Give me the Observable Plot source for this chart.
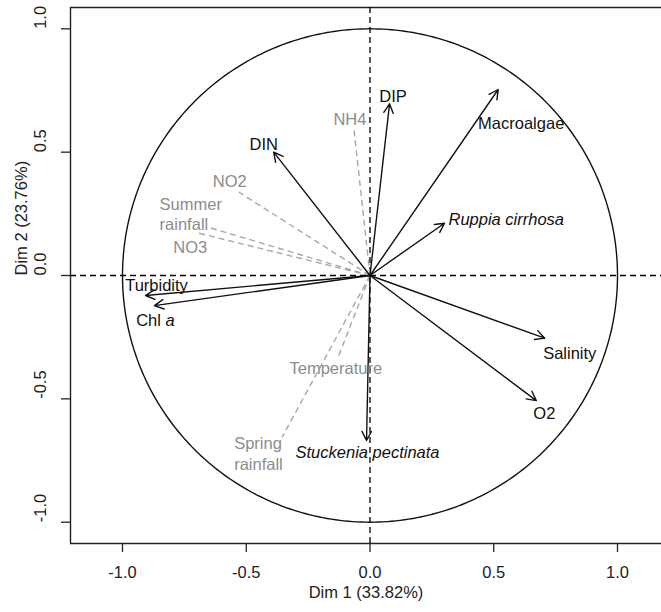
<!DOCTYPE html>
<html><head><meta charset="utf-8">
<script src="https://cdn.jsdelivr.net/npm/d3@7"></script>
<script src="https://cdn.jsdelivr.net/npm/@observablehq/plot@0.6"></script>
<style>html,body{margin:0;padding:0;background:#fff;overflow:hidden}</style>
</head><body><div id="chart"></div>
<script>
// Active variables (black arrows)
const activeNames = ["Macroalgae", "DIP", "Ruppia cirrhosa", "DIN", "Turbidity", "Chl a", "Salinity", "O2", "Stuckenia pectinata"];
const activeDim1 = [0.518, 0.079, 0.301, -0.389, -0.907, -0.871, 0.706, 0.672, -0.014];
const activeDim2 = [0.754, 0.696, 0.212, 0.500, -0.081, -0.122, -0.254, -0.507, -0.669];
const italicNames = ["Ruppia cirrhosa", "Stuckenia pectinata"];

// Supplementary variables (grey dashed)
const suppNames = ["NH4", "NO2", "Summer\nrainfall", "NO3", "Temperature", "Spring\nrainfall"];
const suppDim1 = [-0.065, -0.530, -0.644, -0.698, -0.126, -0.355];
const suppDim2 = [0.595, 0.338, 0.193, 0.173, -0.324, -0.655];

const xTicks = [-1, -0.5, 0, 0.5, 1];
const yTicks = [-1, -0.5, 0, 0.5, 1];
const xTitle = "Dim 1 (33.82%)";
const yTitle = "Dim 2 (23.76%)";

// label placement (pixel offsets from the arrow tip)
const labelLayout = {
  "Macroalgae": {dx: 23, dy: 33},
  "DIP": {dx: 3.5, dy: -8},
  "Ruppia cirrhosa": {dx: 4, dy: -4.5, anchor: "start"},
  "DIN": {dx: -10, dy: -9},
  "Turbidity": {dx: 11, dy: -11},
  "Chl a": {dx: 1, dy: 14},
  "Salinity": {dx: 25, dy: 14},
  "O2": {dx: 8, dy: 12},
  "Stuckenia pectinata": {dx: 1, dy: 11},
  "NH4": {dx: -4, dy: -10},
  "NO2": {dx: -9, dy: -12},
  "Summer\nrainfall": {dx: -51, dy: -14.5, anchor: "start"},
  "NO3": {dx: -7, dy: 14},
  "Temperature": {dx: -3, dy: 12},
  "Spring\nrainfall": {dx: -48, dy: 16, anchor: "start"}
};

const active = activeNames.map((name, i) => ({name, x: activeDim1[i], y: activeDim2[i]}));
const supp = suppNames.map((name, i) => ({name, x: suppDim1[i], y: suppDim2[i]}));
// unit correlation circle
const circle = d3.range(0, 361, 1).map(a => ({x: Math.cos(a * Math.PI / 180), y: Math.sin(a * Math.PI / 180)}));

const xDom = [-1.2101, 1.1778];
const yDom = [-1.0864, 1.0864];
const fs = 16.5;
const grey = "#8c8c8c";
const fmt = d => d.toFixed(1);

function labelMark(d, color) {
  const L = labelLayout[d.name] || {dx: 0, dy: 0};
  return Plot.text([d], {
    x: "x", y: "y", text: "name",
    dx: L.dx, dy: L.dy,
    textAnchor: L.anchor || "middle",
    lineAnchor: "middle",
    lineHeight: 1.22,
    fontSize: fs,
    fill: color,
    fontStyle: italicNames.includes(d.name) ? "italic" : "normal"
  });
}

const chart = Plot.plot({
  width: 661,
  height: 612,
  marginLeft: 70,
  marginRight: 0,
  marginTop: 7,
  marginBottom: 69,
  style: {fontFamily: "'Liberation Sans', Arial, sans-serif", fontSize: fs + "px", background: "#fff"},
  x: {domain: xDom, axis: null},
  y: {domain: yDom, axis: null},
  marks: [
    // frame (top, bottom, left)
    Plot.ruleY([yDom[0], yDom[1]], {stroke: "#222", strokeWidth: 1.4}),
    Plot.ruleX([xDom[0]], {stroke: "#222", strokeWidth: 1.4}),
    // ticks
    Plot.axisX({ticks: xTicks, tickSize: 9, tickFormat: () => "", label: null, stroke: "#222", strokeWidth: 1.3}),
    Plot.axisY({ticks: yTicks, tickSize: 9, tickFormat: () => "", label: null, stroke: "#222", strokeWidth: 1.3}),
    Plot.text(xTicks, {x: d => d, text: fmt, frameAnchor: "bottom", dy: 34, fontSize: fs, fill: "#222"}),
    Plot.text(yTicks, {y: d => d, text: fmt, frameAnchor: "left", dx: -30, rotate: -90, fontSize: fs, fill: "#222"}),
    Plot.text([xTitle], {text: d => d, frameAnchor: "bottom", dx: 0, dy: 54, fontSize: fs, fill: "#222"}),
    Plot.text([yTitle], {text: d => d, frameAnchor: "left", dx: -49, rotate: -90, fontSize: fs, fill: "#222"}),
    // zero lines
    Plot.ruleX([0], {stroke: "#000", strokeDasharray: "6,4", strokeWidth: 1.3}),
    Plot.ruleY([0], {stroke: "#000", strokeDasharray: "6,4", strokeWidth: 1.3}),
    // circle
    Plot.line(circle, {x: "x", y: "y", stroke: "#111", strokeWidth: 1.4}),
    // supplementary dashed links
    Plot.link(supp, {x1: () => 0, y1: () => 0, x2: "x", y2: "y", stroke: "#a8a8a8", strokeWidth: 1.4, strokeDasharray: "6,4"}),
    // active arrows
    Plot.arrow(active, {x1: () => 0, y1: () => 0, x2: "x", y2: "y", stroke: "#111", strokeWidth: 1.4, headLength: 11, headAngle: 55}),
    ...supp.map(d => labelMark(d, grey)),
    ...active.map(d => labelMark(d, "#111"))
  ]
});
document.getElementById("chart").appendChild(chart);
// italic "a" in "Chl a"
chart.querySelectorAll("text").forEach(t => {
  if (t.textContent === "Chl a") {
    t.textContent = "Chl ";
    const ts = document.createElementNS("http://www.w3.org/2000/svg", "tspan");
    ts.setAttribute("font-style", "italic");
    ts.textContent = "a";
    t.appendChild(ts);
  }
});
</script>
</body></html>
